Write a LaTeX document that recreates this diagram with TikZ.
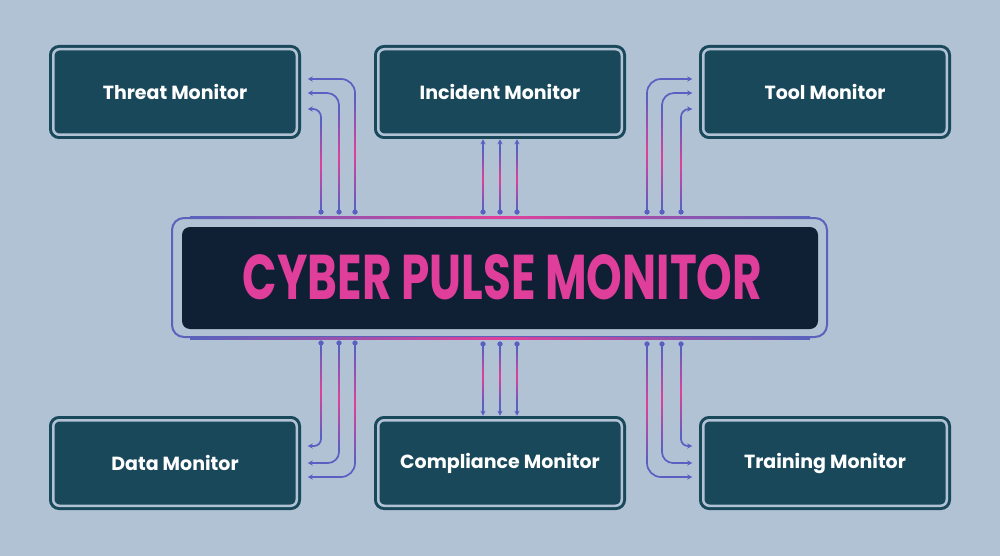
\documentclass[tikz,border=0pt]{standalone}
\usepackage{fontspec}
\setmainfont{Poppins}
\usetikzlibrary{arrows.meta,calc}
\definecolor{bg}{HTML}{B1C2D5}
\definecolor{boxline}{HTML}{18485A}
\definecolor{boxfill}{HTML}{18485A}
\definecolor{corefill}{HTML}{0F1F34}
\definecolor{coreline}{HTML}{5A62BC}
\definecolor{wire}{HTML}{5A5FC2}
\definecolor{pinkw}{HTML}{E0409A}
\definecolor{titlecol}{HTML}{E03E9B}
\newcommand\glowv[3]{\shade[top color=wire,bottom color=wire,middle color=pinkw] (#1-0.85,#2) rectangle (#1+0.85,#3);}
\newcommand\glowh[3]{\shade[left color=coreline,right color=coreline,middle color=pinkw] (#2,#1-1) rectangle (#3,#1+1);}
\begin{document}
\begin{tikzpicture}[x=1pt,y=-1pt,
  mon/.style={draw=boxline, line width=3pt, double=bg, double distance=2.5pt, fill=boxfill,
    rounded corners=6pt, minimum width=243.5pt, minimum height=85.5pt, inner sep=0pt,
    font=\bfseries\fontsize{19}{22}\selectfont, text=white},
  link/.style={draw=wire, line width=1.7pt, -{Stealth[length=5pt,width=5pt]}},
  dotn/.style={circle, fill=wire, inner sep=0pt, minimum size=5pt},
]
\fill[bg] (0,0) rectangle (1000,556);

% monitor boxes
\node[mon] (threat) at (175,92) {Threat Monitor};
\node[mon] (incident) at (500,92) {Incident Monitor};
\node[mon] (tool) at (825,92) {Tool Monitor};
\node[mon] (data) at (175,463) {Data Monitor};
\node[mon] (compliance) at (500,463) {Compliance Monitor};
\node[mon] (training) at (825,463) {Training Monitor};

% central box
\node[draw=coreline, line width=2pt, rounded corners=12pt, minimum width=655pt, minimum height=119pt, inner sep=0pt] (core) at (499.5,277.5) {};
\glowh{217}{190}{810}
\glowh{338}{190}{810}
\node[fill=corefill, rounded corners=8pt, minimum width=636pt, minimum height=102pt, inner sep=0pt] (corein) at (500,278) {};
\node[text=titlecol, inner sep=0pt] (title) at (502.5,277) {\resizebox{519pt}{45pt}{\bfseries CYBER PULSE MONITOR}};

% dots
\foreach \n/\x in {1/321,2/339,3/355} {
  \node[dotn] (tl\n) at (\x,212) {};
  \node[dotn] (bl\n) at (\x,343) {};
}
\foreach \n/\x in {1/483,2/500,3/517} {
  \node[dotn] (tm\n) at (\x,212) {};
  \node[dotn] (bm\n) at (\x,344) {};
}
\foreach \n/\x in {1/647,2/662,3/681} {
  \node[dotn] (tr\n) at (\x,212) {};
  \node[dotn] (br\n) at (\x,344) {};
}

% endpoints
\coordinate (ta1) at ($(threat.east)+(9.5,17)$);
\coordinate (ta2) at ($(threat.east)+(9.5,1)$);
\coordinate (ta3) at ($(threat.east)+(9.5,-13)$);
\coordinate (oa1) at ($(tool.west)+(-9.5,17)$);
\coordinate (oa2) at ($(tool.west)+(-9.5,1)$);
\coordinate (oa3) at ($(tool.west)+(-9.5,-13)$);
\coordinate (da1) at ($(data.east)+(9.5,-17)$);
\coordinate (da2) at ($(data.east)+(9.5,0)$);
\coordinate (da3) at ($(data.east)+(9.5,14)$);
\coordinate (ra1) at ($(training.west)+(-9.5,-17)$);
\coordinate (ra2) at ($(training.west)+(-9.5,0)$);
\coordinate (ra3) at ($(training.west)+(-9.5,14)$);

% connectors: top left
\draw[link, rounded corners=8pt] (tl1.center) |- (ta1);
\draw[link, rounded corners=12pt] (tl2.center) |- (ta2);
\draw[link, rounded corners=14pt] (tl3.center) |- (ta3);
% top middle
\draw[link] (tm1.center) -- ([yshift=-3pt]incident.south -| tm1);
\draw[link] (tm2.center) -- ([yshift=-3pt]incident.south -| tm2);
\draw[link] (tm3.center) -- ([yshift=-3pt]incident.south -| tm3);
% top right
\draw[link, rounded corners=14pt] (tr1.center) |- (oa3);
\draw[link, rounded corners=12pt] (tr2.center) |- (oa2);
\draw[link, rounded corners=8pt] (tr3.center) |- (oa1);
% bottom left
\draw[link, rounded corners=7pt] (bl1.center) |- (da1);
\draw[link, rounded corners=11pt] (bl2.center) |- (da2);
\draw[link, rounded corners=14pt] (bl3.center) |- (da3);
% bottom middle
\draw[link] (bm1.center) -- ([yshift=3pt]compliance.north -| bm1);
\draw[link] (bm2.center) -- ([yshift=3pt]compliance.north -| bm2);
\draw[link] (bm3.center) -- ([yshift=3pt]compliance.north -| bm3);
% bottom right
\draw[link, rounded corners=14pt] (br1.center) |- (ra3);
\draw[link, rounded corners=11pt] (br2.center) |- (ra2);
\draw[link, rounded corners=7pt] (br3.center) |- (ra1);

% gradients on vertical runs
\glowv{321}{122}{208}
\glowv{339}{108}{208}
\glowv{355}{96}{208}
\glowv{483}{150}{208}
\glowv{500}{150}{208}
\glowv{517}{150}{208}
\glowv{647}{96}{208}
\glowv{662}{108}{208}
\glowv{681}{122}{208}
\glowv{321}{347}{436}
\glowv{339}{347}{450}
\glowv{355}{347}{462}
\glowv{483}{348}{404}
\glowv{500}{348}{404}
\glowv{517}{348}{404}
\glowv{647}{348}{462}
\glowv{662}{348}{450}
\glowv{681}{348}{436}

% dots on top
\foreach \p in {tl1,tl2,tl3,tm1,tm2,tm3,tr1,tr2,tr3,bl1,bl2,bl3,bm1,bm2,bm3,br1,br2,br3}
  \fill[wire] (\p) circle (2.5pt);
\end{tikzpicture}
\end{document}
